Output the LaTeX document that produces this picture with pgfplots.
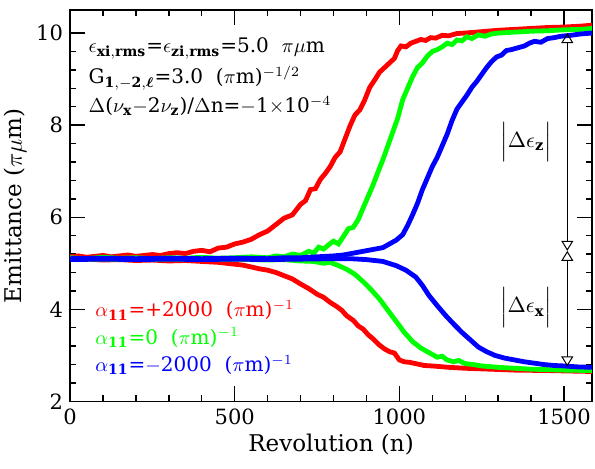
\documentclass[border=0pt]{standalone}
\usepackage{amsmath}
\usepackage{fontspec}
\setmainfont{DejaVu Serif}
\usepackage{pgfplots}
\pgfplotsset{compat=1.18}
\usetikzlibrary{arrows.meta}

\definecolor{cred}{RGB}{255,0,0}
\definecolor{cgreen}{RGB}{0,255,0}
\definecolor{cblue}{RGB}{0,0,255}

\begin{document}
\begin{tikzpicture}
\begin{axis}[
  scale only axis,
  width=260.7pt, height=195.5pt,
  xmin=0, xmax=1585, ymin=2, ymax=10.5,
  xtick={0,500,1000,1500}, ytick={2,4,6,8,10},
  minor x tick num=4, minor y tick num=4,
  tick align=inside,
  major tick length=7.5pt, minor tick length=3.2pt,
  every tick/.style={black, line width=0.7pt},
  axis line style={line width=0.8pt},
  tick label style={font=\fontsize{10.5}{12}\selectfont},
  /pgf/number format/assume math mode=true,
  /pgf/number format/1000 sep={},
  xlabel={Revolution (n)},
  ylabel={Emittance ($\pi\mu$m)},
  label style={font=\fontsize{11.5}{13}\selectfont},
  xlabel style={yshift=2pt},
  ylabel style={yshift=-2pt},
  clip=true,
]
% red, alpha11 = +2000
\addplot[cred, line width=2.4pt] coordinates {
(0,5.14)(25,5.16)(50,5.13)(75,5.15)(100,5.17)(125,5.14)(150,5.16)(175,5.18)(200,5.15)(225,5.17)(250,5.19)(275,5.17)(300,5.21)(325,5.23)(350,5.21)(375,5.26)(400,5.28)(425,5.25)(450,5.33)(475,5.35)(500,5.42)(525,5.46)(550,5.52)(575,5.62)(600,5.70)(625,5.84)(650,5.98)(675,6.05)(700,6.28)(715,6.36)(730,6.60)(745,6.62)(760,6.82)(775,6.95)(790,7.10)(805,7.30)(820,7.42)(835,7.70)(850,7.98)(865,8.22)(880,8.33)(895,8.55)(910,8.82)(925,8.98)(940,9.15)(955,9.25)(970,9.35)(985,9.45)(995,9.62)(1005,9.72)(1020,9.70)(1035,9.78)(1050,9.82)(1065,9.86)(1080,9.84)(1095,9.90)(1110,9.89)(1130,9.95)(1150,9.94)(1175,9.99)(1200,10.0)(1250,10.03)(1300,10.06)(1350,10.08)(1400,10.10)(1450,10.12)(1500,10.13)(1550,10.15)(1585,10.17)
};
\addplot[cred, line width=2.4pt] coordinates {
(0,5.08)(50,5.09)(100,5.07)(150,5.08)(200,5.06)(250,5.07)(300,5.05)(350,5.06)(400,5.04)(450,5.02)(500,4.98)(525,4.96)(550,4.92)(575,4.88)(600,4.85)(625,4.80)(650,4.73)(675,4.66)(700,4.55)(725,4.45)(750,4.33)(770,4.26)(790,4.15)(810,4.06)(825,3.98)(840,3.86)(860,3.76)(875,3.64)(890,3.57)(905,3.45)(920,3.36)(940,3.22)(955,3.14)(970,3.08)(985,3.05)(1000,2.90)(1015,2.86)(1030,2.85)(1050,2.82)(1075,2.78)(1100,2.77)(1150,2.74)(1200,2.72)(1275,2.70)(1350,2.68)(1450,2.67)(1585,2.65)
};
% green, alpha11 = 0
\addplot[cgreen, line width=2.4pt] coordinates {
(0,5.12)(50,5.10)(100,5.13)(150,5.11)(200,5.12)(250,5.10)(300,5.12)(350,5.11)(400,5.13)(450,5.11)(500,5.12)(550,5.14)(600,5.12)(625,5.16)(650,5.14)(675,5.20)(700,5.17)(725,5.26)(740,5.22)(755,5.35)(770,5.31)(785,5.40)(800,5.48)(815,5.42)(830,5.58)(845,5.75)(860,5.78)(875,5.95)(890,6.20)(905,6.45)(920,6.70)(935,6.98)(950,7.25)(965,7.55)(980,7.85)(995,8.15)(1010,8.55)(1025,8.80)(1040,9.05)(1055,9.25)(1070,9.35)(1085,9.50)(1100,9.60)(1115,9.64)(1130,9.70)(1145,9.78)(1160,9.75)(1175,9.85)(1190,9.83)(1205,9.92)(1220,9.88)(1240,9.96)(1260,9.93)(1280,9.98)(1300,10.0)(1350,10.02)(1400,10.04)(1450,10.05)(1500,10.07)(1550,10.08)(1585,10.1)
};
\addplot[cgreen, line width=2.4pt] coordinates {
(0,5.09)(100,5.09)(200,5.08)(300,5.09)(400,5.08)(500,5.09)(600,5.07)(650,5.08)(700,5.05)(740,5.04)(770,5.00)(790,5.02)(815,4.95)(840,4.87)(865,4.76)(890,4.60)(915,4.42)(940,4.22)(965,3.98)(990,3.74)(1015,3.50)(1040,3.30)(1065,3.16)(1090,3.06)(1115,2.96)(1130,2.98)(1145,2.90)(1165,2.86)(1180,2.89)(1200,2.82)(1225,2.80)(1250,2.77)(1300,2.74)(1350,2.72)(1400,2.70)(1500,2.68)(1585,2.67)
};
% blue, alpha11 = -2000
\addplot[cblue, line width=2.4pt] coordinates {
(0,5.10)(100,5.11)(200,5.10)(300,5.11)(400,5.10)(500,5.11)(600,5.10)(650,5.12)(700,5.12)(750,5.14)(800,5.16)(830,5.18)(860,5.22)(890,5.26)(920,5.30)(950,5.34)(970,5.42)(990,5.50)(1010,5.62)(1025,5.82)(1040,6.05)(1055,6.30)(1070,6.60)(1085,6.85)(1100,7.10)(1115,7.30)(1130,7.55)(1145,7.80)(1160,8.10)(1175,8.35)(1190,8.50)(1205,8.65)(1220,8.82)(1235,8.95)(1250,9.10)(1265,9.25)(1280,9.38)(1295,9.48)(1310,9.52)(1325,9.62)(1340,9.64)(1360,9.68)(1380,9.72)(1395,9.78)(1410,9.82)(1430,9.80)(1450,9.88)(1470,9.90)(1490,9.93)(1520,9.95)(1550,9.98)(1585,10.0)
};
\addplot[cblue, line width=2.4pt] coordinates {
(0,5.08)(100,5.09)(200,5.08)(300,5.09)(400,5.08)(500,5.09)(600,5.08)(700,5.09)(800,5.10)(850,5.10)(900,5.08)(950,5.04)(990,4.95)(1020,4.85)(1050,4.70)(1070,4.52)(1090,4.30)(1115,4.08)(1140,3.87)(1165,3.68)(1190,3.50)(1215,3.34)(1240,3.18)(1265,3.08)(1290,3.00)(1320,2.94)(1350,2.90)(1380,2.86)(1410,2.83)(1440,2.80)(1470,2.78)(1500,2.77)(1540,2.75)(1585,2.74)
};

% |Delta epsilon| markers
\draw[line width=0.5pt, {Triangle[open,length=5pt,width=6pt]}-{Triangle[open,length=5pt,width=6pt]}]
  (axis cs:1510,5.27) -- (axis cs:1510,10.0);
\draw[line width=0.5pt, {Triangle[open,length=5pt,width=6pt]}-{Triangle[open,length=5pt,width=6pt]}]
  (axis cs:1510,5.27) -- (axis cs:1510,2.76);
\node[font=\fontsize{10.5}{12}\selectfont] at (axis cs:1385,7.63) {$\Bigl|\Delta\epsilon_{\mathbf{z}}\Bigr|$};
\node[font=\fontsize{10.5}{12}\selectfont] at (axis cs:1385,4.04) {$\Bigl|\Delta\epsilon_{\mathbf{x}}\Bigr|$};

% parameter text
\node[anchor=west, font=\fontsize{10}{12}\selectfont] at (axis cs:35,9.66)
  {$\epsilon_{\mathbf{xi,rms}}$=$\epsilon_{\mathbf{zi,rms}}$=5.0\ \ $\pi\mu$m};
\node[anchor=west, font=\fontsize{10}{12}\selectfont] at (axis cs:35,9.02)
  {G$_{\mathbf{1,-2,}\boldsymbol{\ell}}$=3.0\ \ ($\pi$m)$^{-1/2}$};
\node[anchor=west, font=\fontsize{10}{12}\selectfont] at (axis cs:35,8.42)
  {$\Delta$($\nu_{\mathbf{x}}$$-$2$\nu_{\mathbf{z}}$)/$\Delta$n=$-$1$\times$10$^{-4}$};

% alpha labels
\node[anchor=west, text=cred, font=\fontsize{10}{12}\selectfont] at (axis cs:55,3.98)
  {$\alpha_{\mathbf{11}}$=+2000\ \ ($\pi$m)$^{-1}$};
\node[anchor=west, text=cgreen, font=\fontsize{10}{12}\selectfont] at (axis cs:55,3.38)
  {$\alpha_{\mathbf{11}}$=0\ \ ($\pi$m)$^{-1}$};
\node[anchor=west, text=cblue, font=\fontsize{10}{12}\selectfont] at (axis cs:55,2.79)
  {$\alpha_{\mathbf{11}}$=$-$2000\ \ ($\pi$m)$^{-1}$};
\end{axis}
\pgfresetboundingbox
\useasboundingbox (-35pt,-33.5pt) rectangle (262.2pt,200.5pt);
\end{tikzpicture}
\end{document}
